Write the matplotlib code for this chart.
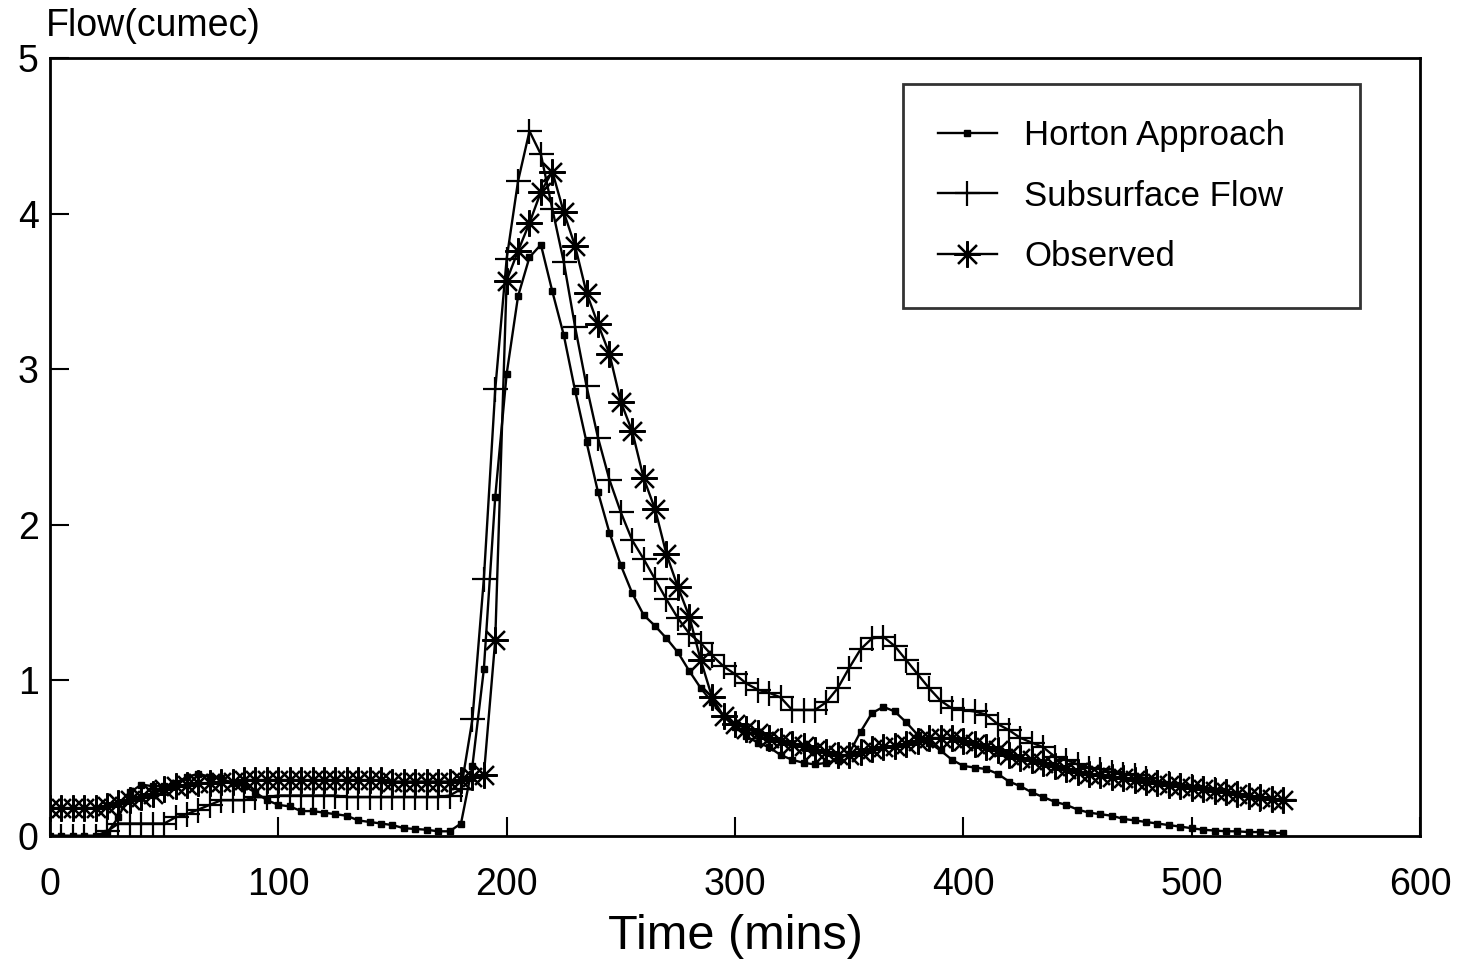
import matplotlib.pyplot as plt

plt.rcParams['font.family'] = ['Liberation Sans', 'DejaVu Sans']

# time axis, every 5 minutes
time = list(range(0, 545, 5))

horton = [0.0, 0.0, 0.0, 0.0, 0.0, 0.02, 0.12, 0.28, 0.33, 0.32,
          0.32, 0.34, 0.38, 0.40, 0.38, 0.37, 0.34, 0.32, 0.28, 0.23,
          0.20, 0.19, 0.16, 0.16, 0.15, 0.14, 0.13, 0.10, 0.09, 0.08,
          0.07, 0.05, 0.045, 0.04, 0.03, 0.03, 0.08, 0.45, 1.07, 2.18,
          2.97, 3.47, 3.72, 3.80, 3.50, 3.22, 2.86, 2.53, 2.21, 1.95,
          1.74, 1.56, 1.42, 1.35, 1.27, 1.18, 1.06, 0.95, 0.86, 0.77,
          0.70, 0.64, 0.60, 0.57, 0.52, 0.49, 0.47, 0.46, 0.47, 0.49,
          0.53, 0.67, 0.79, 0.83, 0.80, 0.73, 0.65, 0.60, 0.55, 0.49,
          0.45, 0.44, 0.43, 0.40, 0.35, 0.32, 0.28, 0.25, 0.22, 0.20,
          0.17, 0.15, 0.14, 0.13, 0.11, 0.10, 0.09, 0.08, 0.07, 0.06,
          0.05, 0.04, 0.035, 0.03, 0.03, 0.025, 0.025, 0.02, 0.02]

subsurface = [0.0, 0.0, 0.0, 0.0, 0.0, 0.03, 0.08, 0.08, 0.08, 0.08,
              0.08, 0.12, 0.14, 0.17, 0.20, 0.23, 0.23, 0.23, 0.25, 0.25,
              0.26, 0.26, 0.26, 0.26, 0.26, 0.26, 0.25, 0.25, 0.25, 0.25,
              0.25, 0.25, 0.25, 0.25, 0.25, 0.26, 0.30, 0.75, 1.65, 2.87,
              3.71, 4.21, 4.53, 4.38, 4.03, 3.69, 3.27, 2.89, 2.56, 2.29,
              2.08, 1.90, 1.78, 1.65, 1.52, 1.40, 1.30, 1.24, 1.16, 1.09,
              1.04, 0.98, 0.94, 0.92, 0.89, 0.81, 0.81, 0.81, 0.86, 0.95,
              1.08, 1.20, 1.27, 1.28, 1.22, 1.13, 1.04, 0.95, 0.87, 0.82,
              0.81, 0.80, 0.78, 0.72, 0.68, 0.63, 0.60, 0.57, 0.51, 0.49,
              0.46, 0.44, 0.43, 0.41, 0.40, 0.39, 0.37, 0.35, 0.34, 0.33,
              0.32, 0.31, 0.30, 0.28, 0.27, 0.25, 0.24, 0.235, 0.23]

observed = [0.18, 0.18, 0.18, 0.18, 0.18, 0.19, 0.21, 0.23, 0.25, 0.27,
            0.30, 0.32, 0.33, 0.34, 0.34, 0.35, 0.35, 0.36, 0.36, 0.36,
            0.36, 0.36, 0.36, 0.36, 0.36, 0.36, 0.36, 0.36, 0.36, 0.36,
            0.35, 0.35, 0.35, 0.35, 0.35, 0.35, 0.36, 0.38, 0.39, 1.26,
            3.57, 3.76, 3.94, 4.14, 4.27, 4.01, 3.79, 3.49, 3.29, 3.10,
            2.79, 2.60, 2.30, 2.10, 1.81, 1.60, 1.41, 1.13, 0.89, 0.77,
            0.72, 0.69, 0.66, 0.63, 0.61, 0.59, 0.58, 0.55, 0.54, 0.52,
            0.52, 0.54, 0.56, 0.57, 0.58, 0.59, 0.61, 0.63, 0.63, 0.63,
            0.61, 0.59, 0.57, 0.55, 0.52, 0.50, 0.49, 0.47, 0.45, 0.43,
            0.41, 0.40, 0.39, 0.38, 0.37, 0.36, 0.35, 0.34, 0.33, 0.32,
            0.31, 0.30, 0.29, 0.28, 0.27, 0.26, 0.25, 0.24, 0.23]

fig = plt.figure(figsize=(14.7, 9.67), dpi=100)
ax = fig.add_axes([0.034, 0.1355, 0.932, 0.8045])

ax.plot(time, horton, color='black', lw=1.7, marker='s', ms=4.5,
        mfc='black', mec='black', label='Horton Approach')
ax.plot(time, subsurface, color='black', lw=1.7, marker='+', ms=18,
        mew=1.6, label='Subsurface Flow')
ax.plot(time, observed, color='black', lw=1.7, marker=(8, 2, 0), ms=19,
        mew=1.6, label='Observed')

ax.set_xlim(0, 600)
ax.set_ylim(0, 5)
ax.set_xticks([0, 100, 200, 300, 400, 500, 600])
ax.set_yticks([0, 1, 2, 3, 4, 5])
ax.tick_params(direction='in', length=14, width=1.5, labelsize=27,
               colors='black')
ax.tick_params(axis='x', pad=22)
ax.tick_params(axis='y', pad=8)
for s in ax.spines.values():
    s.set_linewidth(2)

ax.set_xlabel('Time (mins)', fontsize=35, labelpad=8)
fig.text(0.031, 0.973, 'Flow(cumec)', fontsize=27, ha='left', va='center')

leg = ax.legend(loc='upper left', bbox_to_anchor=(0.6226, 0.694, 0.3336, 0.2726),
                mode='expand', fontsize=25, frameon=True, fancybox=False,
                borderpad=1.0, labelspacing=0.8, handlelength=1.7,
                handletextpad=0.8, borderaxespad=0)
leg.get_frame().set_edgecolor('black')
leg.get_frame().set_linewidth(2)

fig.savefig('out.png', dpi=100)
